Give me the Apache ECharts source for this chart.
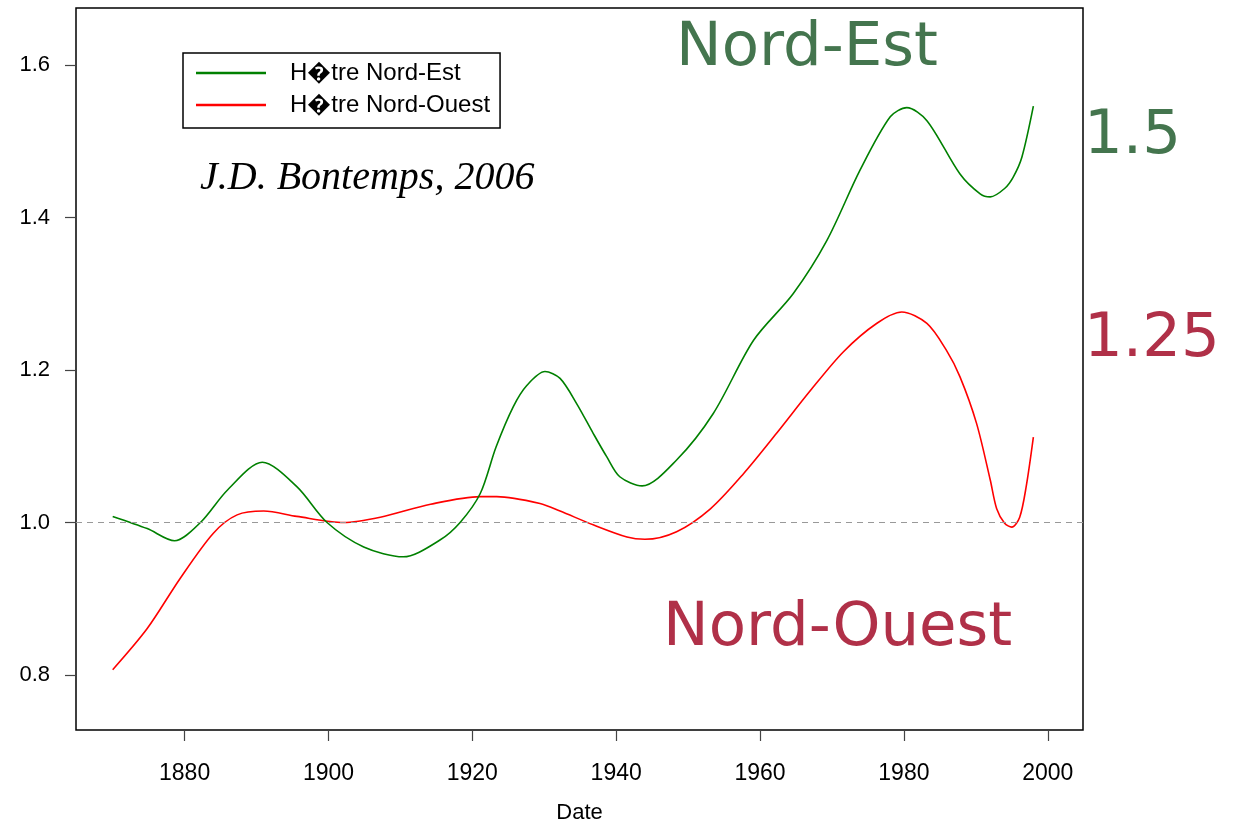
<!DOCTYPE html>
<html>
<head>
<meta charset="utf-8">
<script src="https://cdn.jsdelivr.net/npm/echarts@6/dist/echarts.min.js"></script>
<style>
  html, body { margin: 0; padding: 0; background: #fff; }
  #main { width: 1233px; height: 823px; }
</style>
</head>
<body>
<div id="main"></div>
<script>
// Hêtre Nord-Est (green)
var neYears = [1870, 1874.8, 1878.6, 1882.2, 1886, 1890.8, 1895.6, 1899.8, 1904.9, 1910.4, 1915.5, 1918.3,
  1921.1, 1923.3, 1925.7, 1927.6, 1930.1, 1932.2, 1934.5, 1936.8, 1938.7, 1940.5, 1943.6, 1948.4, 1953.5,
  1959.1, 1964.6, 1969.3, 1973.9, 1978.1, 1980.4, 1983.2, 1987.8, 1990.6, 1992.0, 1994.0, 1995.2,
  1996.4, 1998.0];
var neValues = [1.008, 0.992, 0.976, 1.000, 1.043, 1.079, 1.047, 1.000, 0.968, 0.955, 0.977, 1.000,
  1.038, 1.099, 1.152, 1.180, 1.198, 1.189, 1.156, 1.117, 1.086, 1.060, 1.048, 1.082, 1.143,
  1.239, 1.300, 1.370, 1.462, 1.532, 1.544, 1.527, 1.457, 1.431, 1.427, 1.438, 1.453,
  1.479, 1.546];

// Hêtre Nord-Ouest (red)
var noYears = [1870, 1874.8, 1879.4, 1884.0, 1887.3, 1891.0, 1895.6, 1902.1, 1907.2, 1914.2, 1921.1, 1923.4,
  1929.4, 1932.2, 1936.8, 1941.5, 1944.0, 1948.4, 1953.1, 1957.7, 1962.3, 1967.0, 1971.6, 1976.2,
  1979.7, 1983.2, 1985.9, 1987.8, 1990.1, 1992.0, 1992.9, 1994.0, 1995.0, 1996.1, 1997.0, 1998.0];
var noValues = [0.807, 0.861, 0.927, 0.986, 1.010, 1.015, 1.008, 1.000, 1.007, 1.024, 1.034, 1.034,
  1.025, 1.015, 0.997, 0.981, 0.978, 0.988, 1.018, 1.064, 1.117, 1.173, 1.224, 1.261,
  1.276, 1.261, 1.226, 1.191, 1.130, 1.056, 1.018, 0.999, 0.994, 1.007, 1.047, 1.112];

var xTicks = [1880, 1900, 1920, 1940, 1960, 1980, 2000];
var yTicks = [0.8, 1.0, 1.2, 1.4, 1.6];
var seriesNames = ['H\uFFFDtre Nord-Est', 'H\uFFFDtre Nord-Ouest'];

function pairs(xs, ys) {
  return xs.map(function (x, i) { return [x, ys[i]]; });
}

var chart = echarts.init(document.getElementById('main'), null, { renderer: 'canvas' });

var option = {
  animation: false,
  backgroundColor: '#fff',
  grid: {
    left: 76, top: 8, right: 150, bottom: 93,
    outerBoundsMode: 'none', containLabel: false,
    show: true, borderColor: '#000', borderWidth: 1.5, backgroundColor: 'transparent'
  },
  legend: {
    left: 183, top: 53,
    orient: 'vertical',
    backgroundColor: '#fff',
    borderColor: '#000', borderWidth: 1.5, borderRadius: 0,
    padding: [6, 10, 9, 13],
    itemGap: 4,
    icon: 'rect',
    itemWidth: 70, itemHeight: 2.5,
    textStyle: { fontFamily: 'Liberation Sans', fontSize: 24, color: '#000', lineHeight: 28, padding: [0, 0, 0, 19] },
    data: seriesNames
  },
  xAxis: {
    type: 'value', min: 1864.9, max: 2004.9,
    name: 'Date', nameLocation: 'middle', nameGap: 72,
    nameTextStyle: { fontFamily: 'Liberation Sans', fontSize: 22, color: '#000' },
    axisLine: { show: false },
    splitLine: { show: false },
    axisTick: { show: true, inside: false, length: 11, customValues: xTicks, lineStyle: { color: '#444', width: 1.2 } },
    axisLabel: {
      customValues: xTicks, margin: 32, fontFamily: 'Liberation Sans', fontSize: 23, color: '#000',
      formatter: function (v) { return String(v); }
    }
  },
  yAxis: {
    type: 'value', min: 0.7279, max: 1.6747,
    axisLine: { show: false },
    splitLine: { show: false },
    axisTick: { show: true, inside: false, length: 11, customValues: yTicks, lineStyle: { color: '#444', width: 1.2 } },
    axisLabel: {
      customValues: yTicks, margin: 26, fontFamily: 'Liberation Sans', fontSize: 22, color: '#000',
      formatter: function (v) { return v.toFixed(1); }
    }
  },
  series: [
    {
      name: seriesNames[0], type: 'line', data: pairs(neYears, neValues),
      showSymbol: false, symbol: 'none', smooth: 0.3,
      lineStyle: { color: '#008000', width: 1.6 }, itemStyle: { color: '#008000' },
      markLine: {
        silent: true, symbol: 'none', label: { show: false },
        lineStyle: { color: '#999', type: [6, 5], width: 1.2 },
        data: [{ yAxis: 1.0 }]
      },
      z: 3
    },
    {
      name: seriesNames[1], type: 'line', data: pairs(noYears, noValues),
      showSymbol: false, symbol: 'none', smooth: 0.3,
      lineStyle: { color: '#ff0000', width: 1.6 }, itemStyle: { color: '#ff0000' },
      z: 2
    }
  ],
  graphic: [
    { type: 'text', left: 200, top: 158, style: { text: 'J.D. Bontemps, 2006', font: 'italic 40px "Liberation Serif"', fill: '#000' } },
    { type: 'text', left: 676, top: 19, style: { text: 'Nord-Est', font: '61px "DejaVu Sans"', fill: '#44754e' } },
    { type: 'text', left: 1084, top: 107, style: { text: '1.5', font: '61px "DejaVu Sans"', fill: '#44754e' } },
    { type: 'text', left: 1084, top: 310, style: { text: '1.25', font: '61px "DejaVu Sans"', fill: '#b03048' } },
    { type: 'text', left: 663, top: 599, style: { text: 'Nord-Ouest', font: '61px "DejaVu Sans"', fill: '#b03048' } }
  ]
};

chart.setOption(option);
</script>
</body>
</html>
